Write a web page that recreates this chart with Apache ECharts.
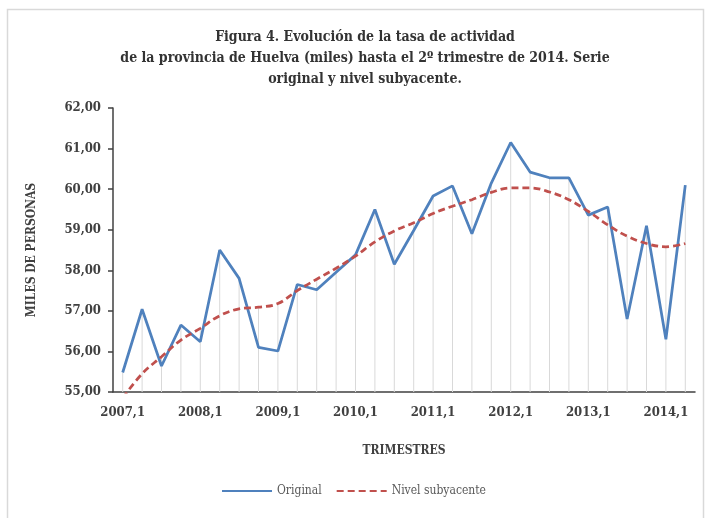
<!DOCTYPE html>
<html>
<head>
<meta charset="utf-8">
<script src="https://cdn.jsdelivr.net/npm/echarts@6/dist/echarts.min.js"></script>
<style>
    html, body { margin: 0; padding: 0; background: #fff; }
    #myChart { width: 707px; height: 518px; }
</style>
</head>
<body>
<div id="myChart"></div>
<script>
// trimestres 2007,1 .. 2014,2
var trimestres = [
    '2007,1', '2007,2', '2007,3', '2007,4',
    '2008,1', '2008,2', '2008,3', '2008,4',
    '2009,1', '2009,2', '2009,3', '2009,4',
    '2010,1', '2010,2', '2010,3', '2010,4',
    '2011,1', '2011,2', '2011,3', '2011,4',
    '2012,1', '2012,2', '2012,3', '2012,4',
    '2013,1', '2013,2', '2013,3', '2013,4',
    '2014,1', '2014,2'
];

var original = [
    55.48, 57.04, 55.64, 56.65, 56.24, 58.50, 57.80, 56.10,
    56.01, 57.65, 57.52, 57.95, 58.38, 59.50, 58.15, 58.98,
    59.83, 60.08, 58.90, 60.15, 61.15, 60.42, 60.28, 60.28,
    59.36, 59.56, 56.80, 59.10, 56.30, 60.10
];

var subyacente = [
    54.85, 55.45, 55.87, 56.28, 56.57, 56.88, 57.05, 57.09,
    57.18, 57.50, 57.78, 58.05, 58.35, 58.70, 58.97, 59.17,
    59.40, 59.58, 59.74, 59.92, 60.03, 60.03, 59.93, 59.74,
    59.45, 59.12, 58.84, 58.66, 58.58, 58.66
];

var yTicks = ['55,00', '56,00', '57,00', '58,00', '59,00', '60,00', '61,00', '62,00'];

window.onload = function () {

    var myChart = echarts.init(document.getElementById('myChart'));

    // lineas de proyeccion: hasta el punto mas alto de cada trimestre
    var dropLines = original.map(function (v, i) {
        return Math.max(v, subyacente[i]);
    });

    var serif = '"DejaVu Serif Condensed", "DejaVu Serif", serif';
    var axisColor = '#404040';

    var option = {
        backgroundColor: '#fff',
        animation: false,
        graphic: [{
            type: 'rect',
            left: 5,
            top: 7,
            shape: { width: 696, height: 530 },
            style: { fill: 'none', stroke: '#d9d9d9', lineWidth: 1.5 },
            silent: true
        }],
        title: {
            text: 'Figura 4. Evolución de la tasa de actividad\nde la provincia de Huelva (miles) hasta el 2º trimestre de 2014. Serie\noriginal y nivel subyacente.',
            left: 360,
            textAlign: 'center',
            top: 22,
            textStyle: {
                fontFamily: serif,
                fontWeight: 'bold',
                fontSize: 14,
                lineHeight: 21,
                color: '#333'
            }
        },
        legend: {
            bottom: 16,
            left: 'center',
            itemWidth: 50,
            itemHeight: 10,
            itemGap: 14,
            itemStyle: { opacity: 0 },
            data: ['Original', 'Nivel subyacente'],
            textStyle: {
                fontFamily: serif,
                fontSize: 12,
                color: '#595959'
            }
        },
        grid: {
            left: 113,
            right: 12,
            top: 108,
            bottom: 126
        },
        xAxis: {
            type: 'category',
            data: trimestres,
            boundaryGap: true,
            name: 'TRIMESTRES',
            nameLocation: 'middle',
            nameGap: 53,
            nameTextStyle: {
                fontFamily: serif,
                fontWeight: 'bold',
                fontSize: 12,
                color: axisColor
            },
            axisLine: { lineStyle: { color: axisColor, width: 1.5 } },
            axisTick: {
                interval: 3,
                length: 5,
                lineStyle: { color: axisColor, width: 1.5 }
            },
            axisLabel: {
                interval: 3,
                margin: 14,
                fontFamily: serif,
                fontWeight: 'bold',
                fontSize: 13,
                color: axisColor
            },
            splitLine: { show: false }
        },
        yAxis: {
            type: 'value',
            min: 55,
            max: 62,
            interval: 1,
            name: 'MILES DE PERSONAS',
            nameLocation: 'middle',
            nameGap: 75,
            nameRotate: 90,
            nameTextStyle: {
                fontFamily: serif,
                fontWeight: 'bold',
                fontSize: 12,
                color: axisColor
            },
            axisLine: { show: true, lineStyle: { color: axisColor, width: 1.5 } },
            axisTick: { show: true, length: 5, lineStyle: { color: axisColor, width: 1.5 } },
            axisLabel: {
                margin: 12,
                fontFamily: serif,
                fontWeight: 'bold',
                fontSize: 13,
                color: axisColor,
                formatter: function (v) {
                    return yTicks[Math.round(v - 55)];
                }
            },
            splitLine: { show: false }
        },
        series: [
            {
                name: 'drop',
                type: 'bar',
                data: dropLines,
                barWidth: 1,
                silent: true,
                itemStyle: { color: '#d9d9d9' },
                z: 1
            },
            {
                name: 'Original',
                type: 'line',
                data: original,
                symbol: 'none',
                lineStyle: { color: '#4f81bd', width: 2.75 },
                itemStyle: { color: '#4f81bd' },
                z: 3
            },
            {
                name: 'Nivel subyacente',
                type: 'line',
                data: subyacente,
                symbol: 'none',
                smooth: 0.4,
                lineStyle: { color: '#c0504d', width: 2.75, type: [7, 4] },
                itemStyle: { color: '#c0504d' },
                z: 4
            }
        ]
    };

    myChart.setOption(option);
};
</script>
</body>
</html>
